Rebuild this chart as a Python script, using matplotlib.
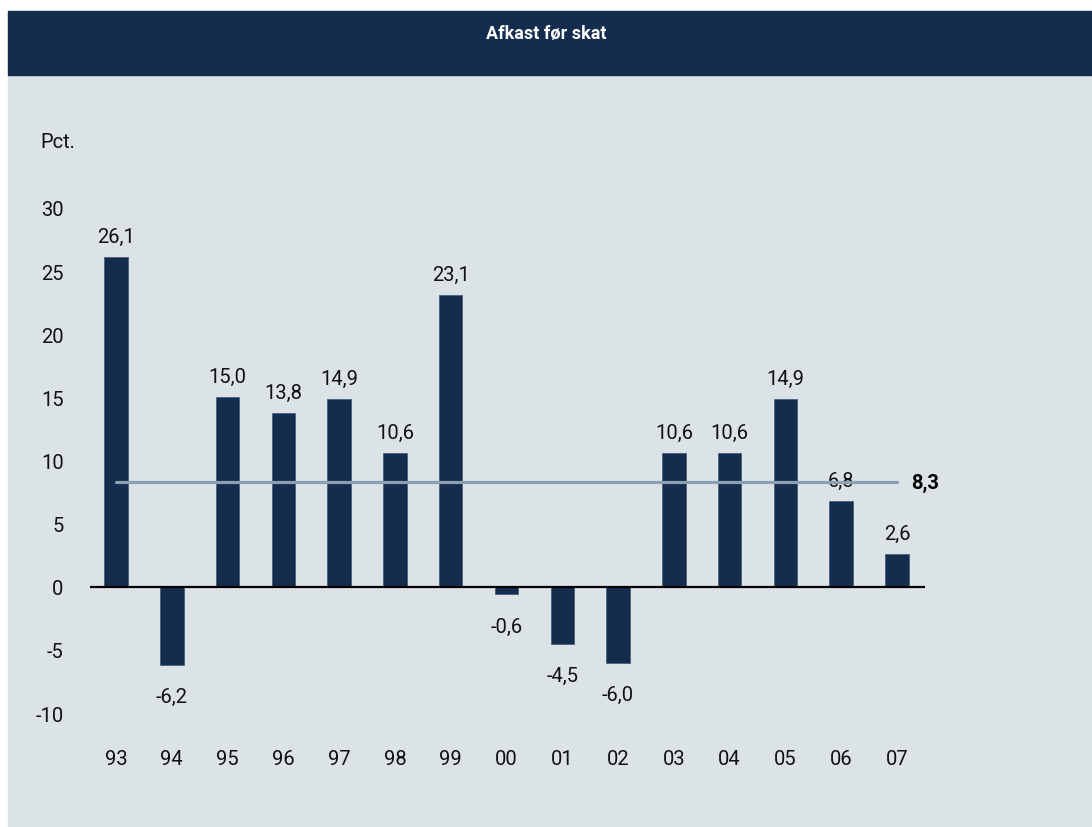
import matplotlib
matplotlib.use("Agg")
import matplotlib.pyplot as plt
from matplotlib.patches import Rectangle

plt.rcParams['font.family'] = ['Roboto', 'DejaVu Sans']

years = ["93", "94", "95", "96", "97", "98", "99", "00", "01", "02", "03", "04", "05", "06", "07"]
returns = [26.1, -6.2, 15.0, 13.8, 14.9, 10.6, 23.1, -0.6, -4.5, -6.0, 10.6, 10.6, 14.9, 6.8, 2.6]
average = 8.3
yticks = [-10, -5, 0, 5, 10, 15, 20, 25, 30]

title = "Afkast før skat"
unit = "Pct."

navy = "#142c4e"
panel = "#dbe3e6"
avg_color = "#8ca0b1"

W, H = 1092, 828
fig = plt.figure(figsize=(W / 100, H / 100), dpi=100)
fig.patch.set_facecolor("white")

# background panel and header band (pixel coords converted to figure fraction)
def px(x, y):
    return x / W, 1 - y / H

fig.patches.append(Rectangle(px(8, 828), (W - 8) / W, (828 - 76) / H,
                             transform=fig.transFigure, color=panel, zorder=-10))
fig.patches.append(Rectangle(px(8, 76), (W - 8) / W, (76 - 12) / H,
                             transform=fig.transFigure, color=navy, zorder=-10))
fig.text(546 / W, 1 - 34 / H, title, color="white", fontsize=13, fontweight="bold",
         ha="center", va="center")
fig.text(40 / W, 1 - 142 / H, unit, fontsize=14.5, ha="left", va="center", color="#111111")

# axes placed so that bars sit where they are in the reference
left, right, top, bottom = 90, 925, 209, 714
ax = fig.add_axes([left / W, 1 - bottom / H, (right - left) / W, (bottom - top) / H])
ax.set_zorder(5)
ax.set_facecolor("none")
step = 781 / 14
ax.set_xlim(-(116 - left) / step, 14 + (right - 897) / step)
ax.set_ylim(-10, 30)

x = list(range(len(years)))
ax.bar(x, returns, width=0.42, color=navy, edgecolor="#4a6078", linewidth=0.6, zorder=2)
ax.axhline(0, color="black", linewidth=1.6, zorder=3)
ax.plot([0, 14], [average, average], color=avg_color, linewidth=2.3, zorder=4,
        solid_capstyle="round")
ax.annotate(f"{average:.1f}".replace(".", ","), (14, average), xytext=(10, 0),
            textcoords="offset points", va="center", ha="left", fontsize=14.5,
            fontweight="semibold", color="black")

for xi, v in zip(x, returns):
    label = f"{v:.1f}".replace(".", ",")
    if v >= 0:
        ax.annotate(label, (xi, v), xytext=(0, 8), textcoords="offset points",
                    ha="center", va="bottom", fontsize=14.5, color="#111111")
    else:
        ax.annotate(label, (xi, v), xytext=(0, -16), textcoords="offset points",
                    ha="center", va="top", fontsize=14.5, color="#111111")

for s in ax.spines.values():
    s.set_visible(False)
ax.set_yticks(yticks)
ax.set_yticklabels([str(t) for t in yticks])
ax.set_xticks(x)
ax.set_xticklabels(years)
ax.tick_params(axis="y", length=0, pad=19, labelsize=14.5, labelcolor="#111111")
ax.tick_params(axis="x", length=0, pad=26, labelsize=14.5, labelcolor="#111111")

fig.savefig("out.png", dpi=100)
